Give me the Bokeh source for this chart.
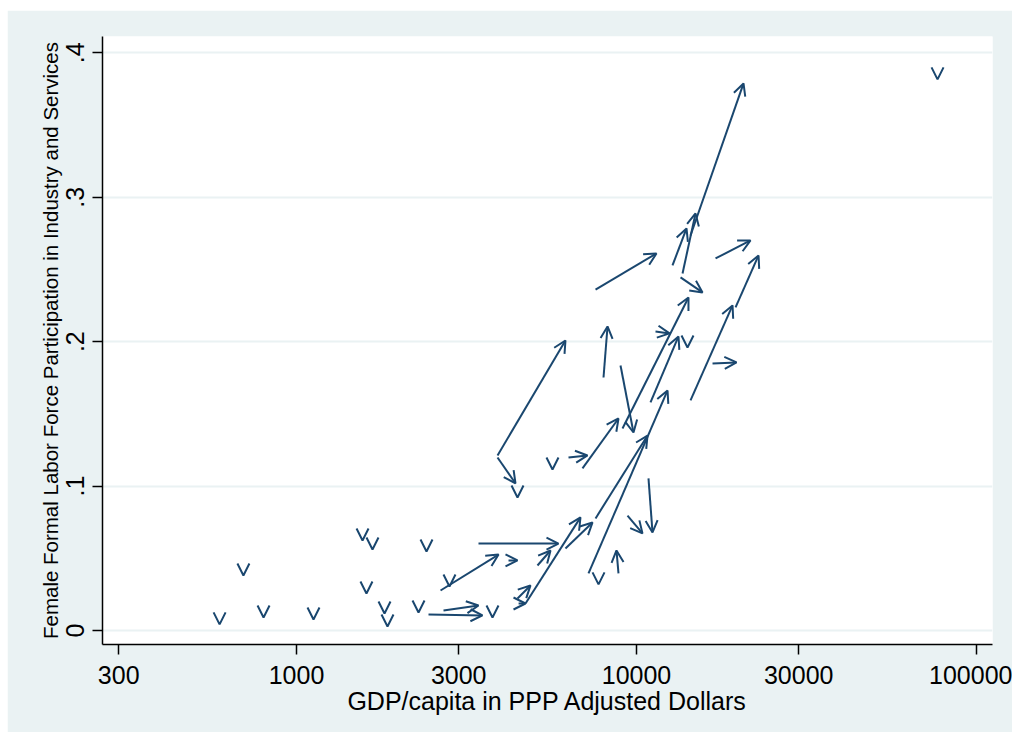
from bokeh.plotting import figure
from bokeh.models import Arrow, OpenHead, ColumnDataSource, FixedTicker, NumeralTickFormatter, Range1d
from bokeh.embed import file_html
from bokeh.resources import INLINE

# Arrows: (GDP/capita, female formal LFP) start -> end
x_start = [2445, 2706, 2652, 4203, 3430, 5114, 4467, 4716, 4500, 6181, 7577, 7225, 8852, 9409, 10846,
           3902, 3902, 6310, 6937, 8974, 9096, 10995, 11373, 14416, 19557, 16733, 7998,
           7577, 12761, 13658, 14416, 13473, 17079]
y_start = [0.0111, 0.0139, 0.0277, 0.0485, 0.0602, 0.0450, 0.0222, 0.0187, 0.0187, 0.0568, 0.0776, 0.0395, 0.0395, 0.0796, 0.1053,
           0.1212, 0.1198, 0.1198, 0.1122, 0.1835, 0.1399, 0.1579, 0.2071, 0.1593, 0.2237, 0.1849, 0.1752,
           0.2361, 0.2528, 0.2472, 0.2735, 0.2445, 0.2576]
x_end = [3524, 3430, 3929, 4467, 5896, 5586, 4878, 6843, 4716, 7424, 10775, 12340, 8733, 10414, 11145,
         6181, 4407, 7176, 8852, 9799, 14221, 13290, 12509, 19163, 22853, 19690, 8218,
         11449, 14033, 14914, 20643, 15638, 21643]
y_end = [0.0104, 0.0173, 0.0526, 0.0485, 0.0602, 0.0554, 0.0312, 0.0783, 0.0187, 0.0748, 0.1350, 0.1662, 0.0554, 0.0672, 0.0679,
         0.2008, 0.1018, 0.1212, 0.1468, 0.1371, 0.2306, 0.2036, 0.2057, 0.2251, 0.2597, 0.1856, 0.2105,
         0.2611, 0.2784, 0.2888, 0.3788, 0.2341, 0.2701]

# Countries with no change (zero-length arrows)
v_x = [594, 698, 800, 1122, 1564, 1673, 1606, 1815, 1852, 2412, 2285, 2818, 3771, 7732, 4467, 5661, 14125, 76800]
v_y = [0.0042, 0.0381, 0.0090, 0.0076, 0.0623, 0.0561, 0.0256, 0.0118, 0.0028, 0.0547, 0.0125, 0.0305,
       0.0090, 0.0319, 0.0921, 0.1115, 0.1960, 0.3816]

x_ticks = [300, 1000, 3000, 10000, 30000, 100000]
y_ticks = [0, 0.1, 0.2, 0.3, 0.4]
y_tick_labels = ["0", ".1", ".2", ".3", ".4"]

NAVY = "#1A476F"
BG = "#EAF2F3"
FONT = "Liberation Sans"

p = figure(x_axis_type="log", output_backend="svg", toolbar_location=None,
           frame_width=890, frame_height=608,
           min_border_left=95, min_border_right=20, min_border_top=26, min_border_bottom=88,
           x_range=Range1d(268.8, 111440), y_range=Range1d(-0.0097, 0.4113))
p.margin = (10, 0, 0, 7)
p.border_fill_color = BG
p.background_fill_color = "white"
p.outline_line_color = None

p.xgrid.grid_line_color = None
p.ygrid.grid_line_color = BG
p.ygrid.grid_line_width = 2
p.ygrid.ticker = FixedTicker(ticks=y_ticks)

p.xaxis.ticker = FixedTicker(ticks=x_ticks)
p.xaxis.formatter = NumeralTickFormatter(format="0")
p.yaxis.ticker = FixedTicker(ticks=y_ticks)
p.yaxis.major_label_overrides = {t: l for t, l in zip(y_ticks, y_tick_labels)}
p.yaxis.major_label_orientation = "vertical"

for ax in (p.xaxis, p.yaxis):
    ax.axis_line_color = "black"
    ax.axis_line_width = 1.5
    ax.major_tick_line_color = "black"
    ax.major_tick_line_width = 1.5
    ax.major_tick_out = 10
    ax.major_tick_in = 0
    ax.minor_tick_line_color = None
    ax.major_label_text_font = FONT
    ax.major_label_text_font_size = "25px"
    ax.major_label_text_color = "black"
    ax.axis_label_text_font = FONT
    ax.axis_label_text_font_style = "normal"
    ax.axis_label_text_color = "black"

p.xaxis.axis_label = "GDP/capita in PPP Adjusted Dollars"
p.xaxis.axis_label_text_font_size = "25px"
p.xaxis.major_label_standoff = 11
p.xaxis.axis_label_standoff = 0
p.yaxis.axis_label = "Female Formal Labor Force Participation in Industry and Services"
p.yaxis.axis_label_text_font_size = "20.5px"
p.yaxis.major_label_standoff = 8
p.yaxis.axis_label_standoff = 2

src = ColumnDataSource(dict(x0=x_start, y0=y_start, x1=x_end, y1=y_end))
p.add_layout(Arrow(x_start="x0", y_start="y0", x_end="x1", y_end="y1", source=src,
                   line_color=NAVY, line_width=2,
                   end=OpenHead(size=12, line_color=NAVY, line_width=2)))

# zero-length arrows drawn as downward vee heads at the point
v_src = ColumnDataSource(dict(x=v_x, y0=[v + 1e-4 for v in v_y], y1=v_y))
p.add_layout(Arrow(x_start="x", y_start="y0", x_end="x", y_end="y1", source=v_src,
                   line_color=NAVY, line_width=2,
                   end=OpenHead(size=12, line_color=NAVY, line_width=2)))

open("out.html", "w").write(file_html(p, INLINE))
